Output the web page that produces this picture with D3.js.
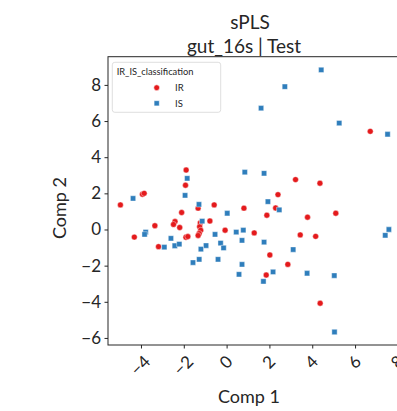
<!DOCTYPE html>
<html>
<head>
<meta charset="utf-8">
<script src="https://cdn.jsdelivr.net/npm/d3@7"></script>
<style>
  html, body { margin: 0; padding: 0; background: #fff; }
  svg { display: block; font-family: Lato, "Open Sans", sans-serif; }
</style>
</head>
<body>
<svg id="chart" width="397" height="411"></svg>
<script>
// sPLS scores on the first two components, test samples
const groups = ["IR", "IS"];
const groupColors = ["#e41a1c", "#2f7ebc"];

const irComp1 = [6.71, -1.89, -1.92, 3.22, 4.36, -3.93, -3.85, 2.40, -4.96, -0.58,
  -1.33, 0.81, 2.29, -2.10, 1.88, 3.78, 5.10, -3.35, -2.41, -2.48,
  -2.19, -0.78, -1.23, -1.26, -1.21, -1.28, -1.33, -0.07, 1.29, -4.31,
  -1.90, -1.81, 3.44, 4.16, -3.18, 2.02, 2.86, 1.85, 4.37];
const irComp2 = [5.43, 3.29, 2.45, 2.76, 2.56, 1.95, 2.00, 1.93, 1.36, 1.36,
  1.18, 1.18, 1.19, 0.94, 0.79, 0.68, 0.90, 0.21, 0.44, 0.28,
  0.11, 0.47, 0.36, 0.15, -0.04, -0.22, -0.33, -0.04, -0.19, -0.42,
  -0.43, -0.39, -0.30, -0.38, -0.95, -1.41, -1.93, -2.52, -4.08];

const isComp1 = [4.42, 2.72, 1.61, 5.26, 7.52, 0.85, 1.75, -1.84, -1.94, -4.37,
  -1.29, 1.93, 2.46, 0.03, -1.14, -3.78, -3.83, -2.60, -0.54, 0.45,
  0.78, 0.72, -0.28, -0.14, 1.75, -2.91, -2.42, -2.21, -0.96, -1.20,
  3.11, -1.57, -1.28, -0.40, 0.72, 0.58, 1.72, 2.17, 3.76, 5.03,
  5.04, 7.58, 7.41];
const isComp2 = [8.83, 7.90, 6.71, 5.89, 5.27, 3.17, 3.11, 2.83, 1.89, 1.72,
  1.39, 1.54, 1.09, 0.90, 0.46, -0.14, -0.27, -0.49, -0.27, -0.14,
  -0.04, -0.60, -0.75, -1.02, -0.70, -0.98, -0.90, -0.81, -0.89, -1.09,
  -1.11, -1.83, -1.65, -1.65, -1.93, -2.48, -2.87, -2.35, -2.42, -2.55,
  -5.67, 0.00, -0.32];

const xTicks = [-4, -2, 0, 2, 4, 6, 8];
const yTicks = [-6, -4, -2, 0, 2, 4, 6, 8];
const titleLines = ["sPLS", "gut_16s | Test"];
const xLabel = "Comp 1";
const yLabel = "Comp 2";
const legendTitle = "IR_IS_classification";

const svg = d3.select("#chart");
const plot = { left: 108, top: 56.7, right: 415, bottom: 345 };

const x = d3.scaleLinear().domain([-5.54, 8.8]).range([plot.left, plot.right]);
const y = d3.scaleLinear().domain([-6.39, 9.56]).range([plot.bottom, plot.top]);

const fmt = d => (d < 0 ? "\u2212" + Math.abs(d) : String(d));
const axisColor = "#262626";
const font = "Lato, 'Open Sans', sans-serif";

// frame
svg.append("rect")
  .attr("x", plot.left).attr("y", plot.top)
  .attr("width", plot.right - plot.left).attr("height", plot.bottom - plot.top)
  .attr("fill", "none").attr("stroke", axisColor).attr("stroke-width", 1);

// y axis
const yAxis = svg.append("g")
  .attr("transform", `translate(${plot.left},0)`)
  .call(d3.axisLeft(y).tickValues(yTicks).tickFormat(fmt).tickSize(3.5).tickPadding(3.5));
yAxis.select(".domain").remove();
yAxis.selectAll(".tick line").attr("stroke", axisColor);
yAxis.selectAll(".tick text")
  .attr("fill", axisColor).attr("font-size", 17).attr("font-family", font);

// x axis, labels turned 45 degrees and hung below the ticks
const xAxis = svg.append("g")
  .attr("transform", `translate(0,${plot.bottom})`)
  .call(d3.axisBottom(x).tickValues(xTicks).tickFormat(fmt).tickSize(3.5));
xAxis.select(".domain").remove();
xAxis.selectAll(".tick line").attr("stroke", axisColor);
xAxis.selectAll(".tick text")
  .attr("fill", axisColor).attr("font-size", 17).attr("font-family", font)
  .attr("y", 0).attr("dy", null)
  .attr("text-anchor", "middle")
  .attr("dominant-baseline", "central")
  .each(function () {
    const w = this.getComputedTextLength();
    const h = 12;
    const half = (w + h) * Math.SQRT1_2 / 2;
    const cy = 9 + half;
    d3.select(this).attr("transform", `translate(-1.5,${cy}) rotate(-45)`);
  });

// points
const pointGroups = [
  { name: groups[0], xs: irComp1, ys: irComp2, color: groupColors[0], shape: d3.symbolCircle, size: 27 },
  { name: groups[1], xs: isComp1, ys: isComp2, color: groupColors[1], shape: d3.symbolSquare, size: 28 }
];
const clip = svg.append("clipPath").attr("id", "plotclip")
  .append("rect").attr("x", plot.left).attr("y", plot.top)
  .attr("width", plot.right - plot.left).attr("height", plot.bottom - plot.top);
const pts = svg.append("g").attr("clip-path", "url(#plotclip)");
pointGroups.forEach(g => {
  pts.append("g").selectAll("path")
    .data(g.xs.map((v, i) => [v, g.ys[i]]))
    .join("path")
    .attr("transform", d => `translate(${x(d[0])},${y(d[1])})`)
    .attr("d", d3.symbol().type(g.shape).size(g.size))
    .attr("fill", g.color)
    .attr("stroke", "#ffffff").attr("stroke-width", 0.6).attr("stroke-opacity", 0.7);
});

// title
svg.append("text").attr("x", 250).attr("y", 28.5)
  .attr("text-anchor", "middle").attr("font-size", 19).attr("fill", axisColor)
  .text(titleLines[0]);
svg.append("text").attr("x", 244).attr("y", 52.5)
  .attr("text-anchor", "middle").attr("font-size", 19).attr("fill", axisColor)
  .text(titleLines[1]);

// axis titles
svg.append("text").attr("x", 249).attr("y", 403)
  .attr("text-anchor", "middle").attr("font-size", 18).attr("fill", axisColor)
  .text(xLabel);
svg.append("text")
  .attr("transform", "translate(66,208) rotate(-90)")
  .attr("text-anchor", "middle").attr("font-size", 18).attr("fill", axisColor)
  .text(yLabel);

// legend
const lg = svg.append("g");
lg.append("rect").attr("x", 112.3).attr("y", 62.3).attr("width", 108.4).attr("height", 50)
  .attr("rx", 2.5).attr("fill", "#ffffff").attr("fill-opacity", 0.85)
  .attr("stroke", "#d6d6d6").attr("stroke-width", 0.8);
lg.append("text").attr("x", 116.7).attr("y", 75.3)
  .attr("font-size", 9.3).attr("fill", axisColor).text(legendTitle);
pointGroups.forEach((g, i) => {
  const cy = 87.7 + i * 15.6;
  lg.append("path")
    .attr("transform", `translate(156.7,${cy})`)
    .attr("d", d3.symbol().type(g.shape).size(g.size))
    .attr("fill", g.color).attr("stroke", "#fff").attr("stroke-width", 0.6);
  lg.append("text").attr("x", 175).attr("y", cy + 3.4)
    .attr("font-size", 9.5).attr("fill", axisColor).text(g.name);
});
</script>
</body>
</html>
